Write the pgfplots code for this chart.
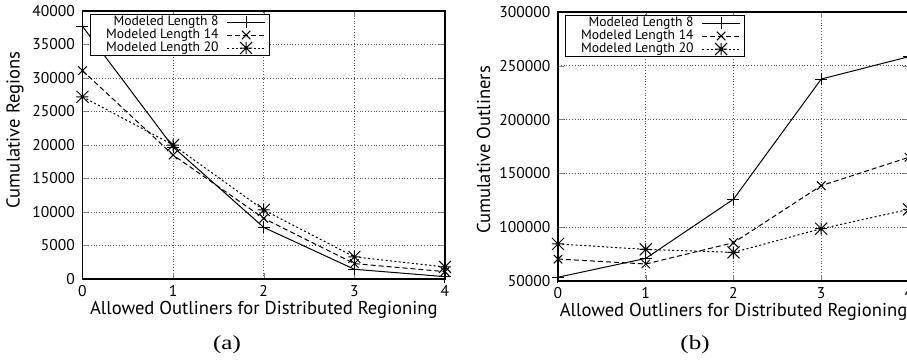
\documentclass[border=0pt]{standalone}
\usepackage{fontspec}
\setmainfont{PT Sans}
\newfontfamily\capfont{Liberation Serif}
\usepackage{pgfplots}
\pgfplotsset{compat=1.18}
\pgfdeclareplotmark{gstar}{%
  \pgfpathmoveto{\pgfqpoint{-\pgfplotmarksize}{0pt}}%
  \pgfpathlineto{\pgfqpoint{\pgfplotmarksize}{0pt}}%
  \pgfpathmoveto{\pgfqpoint{0pt}{-\pgfplotmarksize}}%
  \pgfpathlineto{\pgfqpoint{0pt}{\pgfplotmarksize}}%
  \pgfpathmoveto{\pgfqpoint{-\pgfplotmarksize}{-\pgfplotmarksize}}%
  \pgfpathlineto{\pgfqpoint{\pgfplotmarksize}{\pgfplotmarksize}}%
  \pgfpathmoveto{\pgfqpoint{-\pgfplotmarksize}{\pgfplotmarksize}}%
  \pgfpathlineto{\pgfqpoint{\pgfplotmarksize}{-\pgfplotmarksize}}%
  \pgfusepathqstroke}
\pgfplotsset{
  gp/.style={
    scale only axis,
    xmin=0, xmax=4,
    xtick={0,1,2,3,4},
    tick align=inside,
    major tick length=3pt,
    grid=major,
    grid style={densely dotted, gray!70!black, line width=0.4pt},
    axis line style={line width=0.7pt},
    clip=false,
    /pgf/number format/assume math mode=true,
    /pgf/number format/fixed,
    /pgf/number format/set thousands separator={},
    scaled y ticks=false,
    tick label style={font=\fontsize{7.8}{9}\selectfont},
    yticklabel style={xshift=-0.3pt},
    xticklabel style={yshift=0.3pt},
    label style={font=\fontsize{9.3}{11}\selectfont},
    xlabel style={at={(axis description cs:0.5,0)}, anchor=center, yshift=-15.5pt},
    legend plot pos=right,
    legend cell align=right,
    legend style={font=\fontsize{6.8}{7.5}\selectfont, draw=black, line width=0.6pt,
      inner xsep=2pt, inner ysep=0.5pt, column sep=4pt, row sep=0pt,
      nodes={inner sep=0pt, text height=5pt, text depth=1.5pt}},
    legend image code/.code={\draw[mark repeat=2,mark phase=2] plot coordinates {(0pt,0pt) (9.5pt,0pt) (19pt,0pt)};},
    every axis plot/.append style={line width=0.5pt, black, mark size=3pt, mark options={solid, line width=0.5pt}},
  },
  s8/.style={solid, mark=+},
  s14/.style={dash pattern=on 2.5pt off 1.5pt, mark=x},
  s20/.style={dash pattern=on 1pt off 1.2pt, mark=gstar},
}
\begin{document}
\begin{tikzpicture}
\path[use as bounding box] (0,0) rectangle (453.5pt,180pt);
\clip (0,0) rectangle (453.5pt,180pt);
\begin{axis}[gp,
  at={(41.25pt,40.5pt)}, anchor=south west,
  width=181.25pt, height=134pt,
  ymin=0, ymax=40000,
  ytick={0,5000,...,40000},
  xlabel={Allowed Outliners for Distributed Regioning},
  ylabel={Cumulative Regions},
  ylabel style={at={(axis description cs:-0.186,0.556)}, anchor=center},
  legend style={at={(0.0207,0.989)}, anchor=north west},
]
\addplot[s8] coordinates {(0,37700) (1,19700) (2,7700) (3,1450) (4,350)};
\addlegendentry{\makebox[62pt][r]{Modeled Length 8}}
\addplot[s14] coordinates {(0,31100) (1,18500) (2,9050) (3,2300) (4,1100)};
\addlegendentry{\makebox[62pt][r]{Modeled Length 14}}
\addplot[s20] coordinates {(0,27200) (1,20000) (2,10300) (3,3300) (4,1800)};
\addlegendentry{\makebox[62pt][r]{Modeled Length 20}}
\end{axis}
\begin{axis}[gp,
  at={(279pt,39.5pt)}, anchor=south west,
  width=175.5pt, height=134.5pt,
  ymin=50000, ymax=300000,
  ytick={50000,100000,...,300000},
  xlabel={Allowed Outliners for Distributed Regioning},
  ylabel={Cumulative Outliners},
  ylabel style={at={(axis description cs:-0.212,0.487)}, anchor=center},
  legend style={at={(0.02,0.989)}, anchor=north west},
]
\addplot[s8] coordinates {(0,53500) (1,71000) (2,126000) (3,237700) (4,258500)};
\addlegendentry{\makebox[62pt][r]{Modeled Length 8}}
\addplot[s14] coordinates {(0,70400) (1,65800) (2,85600) (3,138600) (4,165000)};
\addlegendentry{\makebox[62pt][r]{Modeled Length 14}}
\addplot[s20] coordinates {(0,84400) (1,79400) (2,76600) (3,98600) (4,116600)};
\addlegendentry{\makebox[62pt][r]{Modeled Length 20}}
\end{axis}
\node[font=\capfont\fontsize{10}{12}\selectfont] at (113.5pt,7.5pt) {\scalebox{1.25}[1]{(a)}};
\node[font=\capfont\fontsize{10}{12}\selectfont] at (347.5pt,7.5pt) {\scalebox{1.25}[1]{(b)}};
\end{tikzpicture}
\end{document}
